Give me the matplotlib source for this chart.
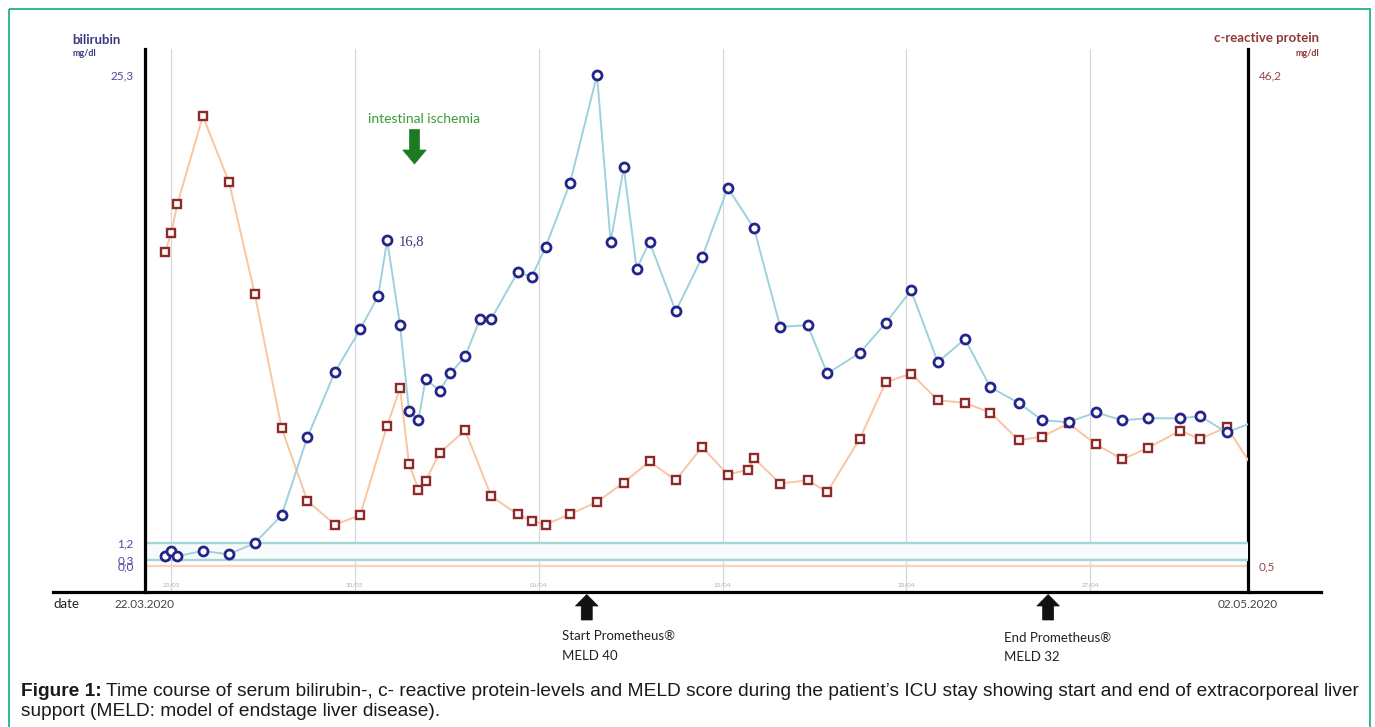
import numpy as np
import matplotlib.pyplot as plt
from matplotlib.lines import Line2D
from matplotlib.patches import Polygon, Rectangle
from matplotlib.transforms import Affine2D, blended_transform_factory

# days after 22.03.2020
bili_day = [0.77, 1.00, 1.24, 2.21, 3.21, 4.19, 5.21, 6.19, 7.24, 8.20, 8.89, 9.23,
            9.72, 10.06, 10.42, 10.69, 11.23, 11.64, 12.20, 12.77, 13.19, 14.20, 14.73,
            15.26, 16.19, 17.22, 17.74, 18.24, 18.73, 19.22, 20.22, 21.22, 22.20, 23.20,
            24.20, 25.24, 25.99, 27.23, 28.22, 29.18, 30.20, 31.23, 32.20, 33.28, 34.18,
            35.18, 36.21, 37.23, 38.20, 39.43, 40.18, 41.20, 43.00]
bili_val = [0.51, 0.77, 0.51, 0.77, 0.60, 1.18, 2.61, 6.62, 10.00, 12.19, 13.92, 16.8,
            12.41, 8.01, 7.51, 9.61, 9.04, 9.92, 10.81, 12.73, 12.73, 15.14, 14.90,
            16.42, 19.72, 25.3, 16.70, 20.54, 15.31, 16.70, 13.13, 15.90, 19.49, 17.40,
            12.32, 12.41, 9.92, 10.98, 12.53, 14.20, 10.50, 11.70, 9.21, 8.40, 7.51,
            7.41, 7.91, 7.51, 7.61, 7.61, 7.72, 6.89, 7.80]

crp_day = [0.77, 1.00, 1.24, 2.21, 3.21, 4.19, 5.21, 6.19, 7.24, 8.20, 9.23, 9.72,
           10.06, 10.42, 10.69, 11.23, 12.20, 13.19, 14.20, 14.73, 15.26, 16.19, 17.22,
           18.24, 19.22, 20.22, 21.22, 22.20, 22.97, 23.20, 24.20, 25.24, 25.99, 27.23,
           28.22, 29.18, 30.20, 31.23, 32.20, 33.28, 34.18, 35.18, 36.21, 37.23, 38.20,
           39.43, 40.18, 41.20, 43.00]
crp_val = [29.69, 31.45, 34.18, 42.38, 36.21, 25.80, 13.35, 6.55, 4.35, 5.21, 13.57, 17.04,
           10.03, 7.61, 8.41, 11.02, 13.13, 6.98, 5.31, 4.68, 4.35, 5.31, 6.45,
           8.26, 10.22, 8.47, 11.58, 9.00, 9.47, 10.52, 8.17, 8.47, 7.38, 12.36,
           17.60, 18.41, 15.93, 15.67, 14.78, 12.20, 12.54, 13.76, 11.83, 10.43, 11.48,
           13.10, 12.29, 13.44, 6.60]

grid_days = [1, 8, 15, 22, 29, 36]
grid_labels = ['23/03', '30/03', '06/04', '13/04', '20/04', '27/04']
bili_ticks = [25.3, 1.2, 0.3, 0.0]
bili_ticklabels = ['25,3', '1,2', '0,3', '0,0']
crp_ticks = [46.2, 0.5]
crp_ticklabels = ['46,2', '0,5']
bili_ref = [1.2, 0.3]
crp_ref = [0.5]
ischemia_day = 10.27
start_day = 16.83
end_day = 34.40

W, H = 1375, 727
fig = plt.figure(figsize=(W / 100, H / 100), dpi=100)
px = Affine2D().scale(1 / W, -1 / H).translate(0, 1) + fig.transFigure

sans = ['Lato', 'DejaVu Sans']
navy = '#24248a'
dred = '#8e2a2a'

ax = fig.add_axes([144.8 / W, (H - 592.3) / H, (1247.7 - 144.8) / W, (592.3 - 49.3) / H])
axc = ax.twinx()
axc.set_zorder(ax.get_zorder() - 1)
ax.patch.set_visible(False)

ax.set_xlim(0, 42)
ax.set_ylim(-1.36, 26.63)
axc.set_ylim(-1.96, 48.6)

for a in (ax, axc):
    for s in a.spines.values():
        s.set_visible(False)
    a.set_xticks([])
ax.spines['left'].set_visible(True)
ax.spines['left'].set_linewidth(2.3)
axc.spines['right'].set_visible(True)
axc.spines['right'].set_linewidth(2.3)

# grid and small date labels
bl = blended_transform_factory(axc.transData, axc.transAxes)
for d, lab in zip(grid_days, grid_labels):
    axc.axvline(d, color='#d6d8dc', lw=0.9, zorder=0)
    axc.text(d, 0.0135, lab, transform=bl, ha='center', va='center',
             fontsize=4.5, color='#b0b0b0', family=sans)

# reference ranges
ax.axhspan(bili_ref[1], bili_ref[0], color='#f8fbfc', zorder=0, lw=0)
for r in bili_ref:
    ax.axhline(r, color='#a3d6d4', lw=1.7, zorder=1)
for r in crp_ref:
    axc.axhline(r, color='#f8d3b6', lw=1.7, zorder=1)

# series
axc.plot(crp_day, crp_val, color='#f8c6a0', lw=1.4, marker='s', ms=6,
         mfc='white', mec=dred, mew=1.7, zorder=3)
ax.plot(bili_day, bili_val, color='#9fd1dd', lw=1.4, marker='o', ms=6.5,
        mfc='white', mec=navy, mew=2.0, zorder=3)

i_pk = bili_val.index(16.8)
ax.annotate('16,8', (bili_day[i_pk], bili_val[i_pk]), xytext=(8, -1.5),
            textcoords='offset points', va='center', ha='left',
            fontsize=10.5, color='#3a3a78', family='Liberation Serif')

# axis tick labels
ax.set_yticks(bili_ticks, bili_ticklabels)
ax.tick_params(axis='y', length=0, pad=8, labelsize=8.5, labelcolor='#4b4b9a')
axc.set_yticks(crp_ticks, crp_ticklabels)
axc.tick_params(axis='y', length=0, pad=8, labelsize=8.5, labelcolor='#9a4545')
for t in ax.get_yticklabels() + axc.get_yticklabels():
    t.set_family(sans)

# bottom axis line
fig.add_artist(Line2D([53, 1321], [592.3, 592.3], transform=px, color='black', lw=2.3))

# axis titles
fig.text(72, 39.5, 'bilirubin', transform=px, ha='left', va='center', fontsize=9.5,
         fontweight='bold', color='#3a3a82', family=sans)
fig.text(72.5, 53.5, 'mg/dl', transform=px, ha='left', va='center', fontsize=6.5,
         fontweight='bold', color='#3a3a82', family=sans)
fig.text(1319, 38.5, 'c-reactive protein', transform=px, ha='right', va='center',
         fontsize=9.5, fontweight='bold', color='#8e3838', family=sans)
fig.text(1319, 53.5, 'mg/dl', transform=px, ha='right', va='center', fontsize=6.5,
         fontweight='bold', color='#8e3838', family=sans)

fig.text(53, 604, 'date', transform=px, ha='left', va='center', fontsize=9.5,
         color='#222222', family=sans)
fig.text(115, 604, '22.03.2020', transform=px, ha='left', va='center', fontsize=8.5,
         color='#444444', family=sans)
fig.text(1248, 604, '02.05.2020', transform=px, ha='center', va='center', fontsize=8.5,
         color='#444444', family=sans)


def day_px(d):
    return ax.transData.transform((d, 0))[0]


def arrow(xc, tip, head_base, tail, head_hw, shaft_hw, color):
    pts = [(xc, tip), (xc + head_hw, head_base), (xc + shaft_hw, head_base),
           (xc + shaft_hw, tail), (xc - shaft_hw, tail), (xc - shaft_hw, head_base),
           (xc - head_hw, head_base)]
    fig.add_artist(Polygon(pts, closed=True, transform=px, fc=color, ec=color, lw=0.5))


# intestinal ischemia
xi = day_px(ischemia_day)
arrow(xi, 164, 150, 129.5, 11.7, 5, '#1b7a22')
fig.text(xi + 10, 119, 'intestinal ischemia', transform=px, ha='center', va='center',
         fontsize=10, color='#3a9a3a', family=sans)

# Prometheus start / end
xs = day_px(start_day)
arrow(xs, 594.5, 606, 620, 11.3, 5.5, '#111111')
fig.text(xs - 25, 636, 'Start Prometheus®', transform=px, ha='left', va='center',
         fontsize=9.5, color='#222222', family=sans)
fig.text(xs - 25, 655.5, 'MELD 40', transform=px, ha='left', va='center',
         fontsize=9.5, color='#222222', family=sans)
xe = day_px(end_day)
arrow(xe, 594.5, 606, 620, 11.3, 5.5, '#111111')
fig.text(xe - 44, 638, 'End Prometheus®', transform=px, ha='left', va='center',
         fontsize=9.5, color='#222222', family=sans)
fig.text(xe - 44, 657, 'MELD 32', transform=px, ha='left', va='center',
         fontsize=9.5, color='#222222', family=sans)

# caption
cap = ['Liberation Sans', 'DejaVu Sans']
cap_fs = 13.8
t1 = fig.text(21, 691.5, 'Figure 1:', transform=px, ha='left', va='center',
              fontsize=cap_fs, fontweight='bold', color='#1a1a1a', family=cap)
fig.canvas.draw()
bb = t1.get_window_extent()
fig.text(21 + bb.width + 4, 691.5,
         'Time course of serum bilirubin-, c- reactive protein-levels and MELD score during '
         'the patient\u2019s ICU stay showing start and end of extracorporeal liver',
         transform=px, ha='left', va='center', fontsize=cap_fs, color='#1a1a1a', family=cap)
fig.text(21, 712, 'support (MELD: model of endstage liver disease).', transform=px,
         ha='left', va='center', fontsize=cap_fs, color='#1a1a1a', family=cap)

# frame
fig.add_artist(Rectangle((9, 9), 1361, 740, transform=px, fill=False,
                         ec='#22b391', lw=1.3))

fig.savefig('out.png', dpi=100)
plt.close()
